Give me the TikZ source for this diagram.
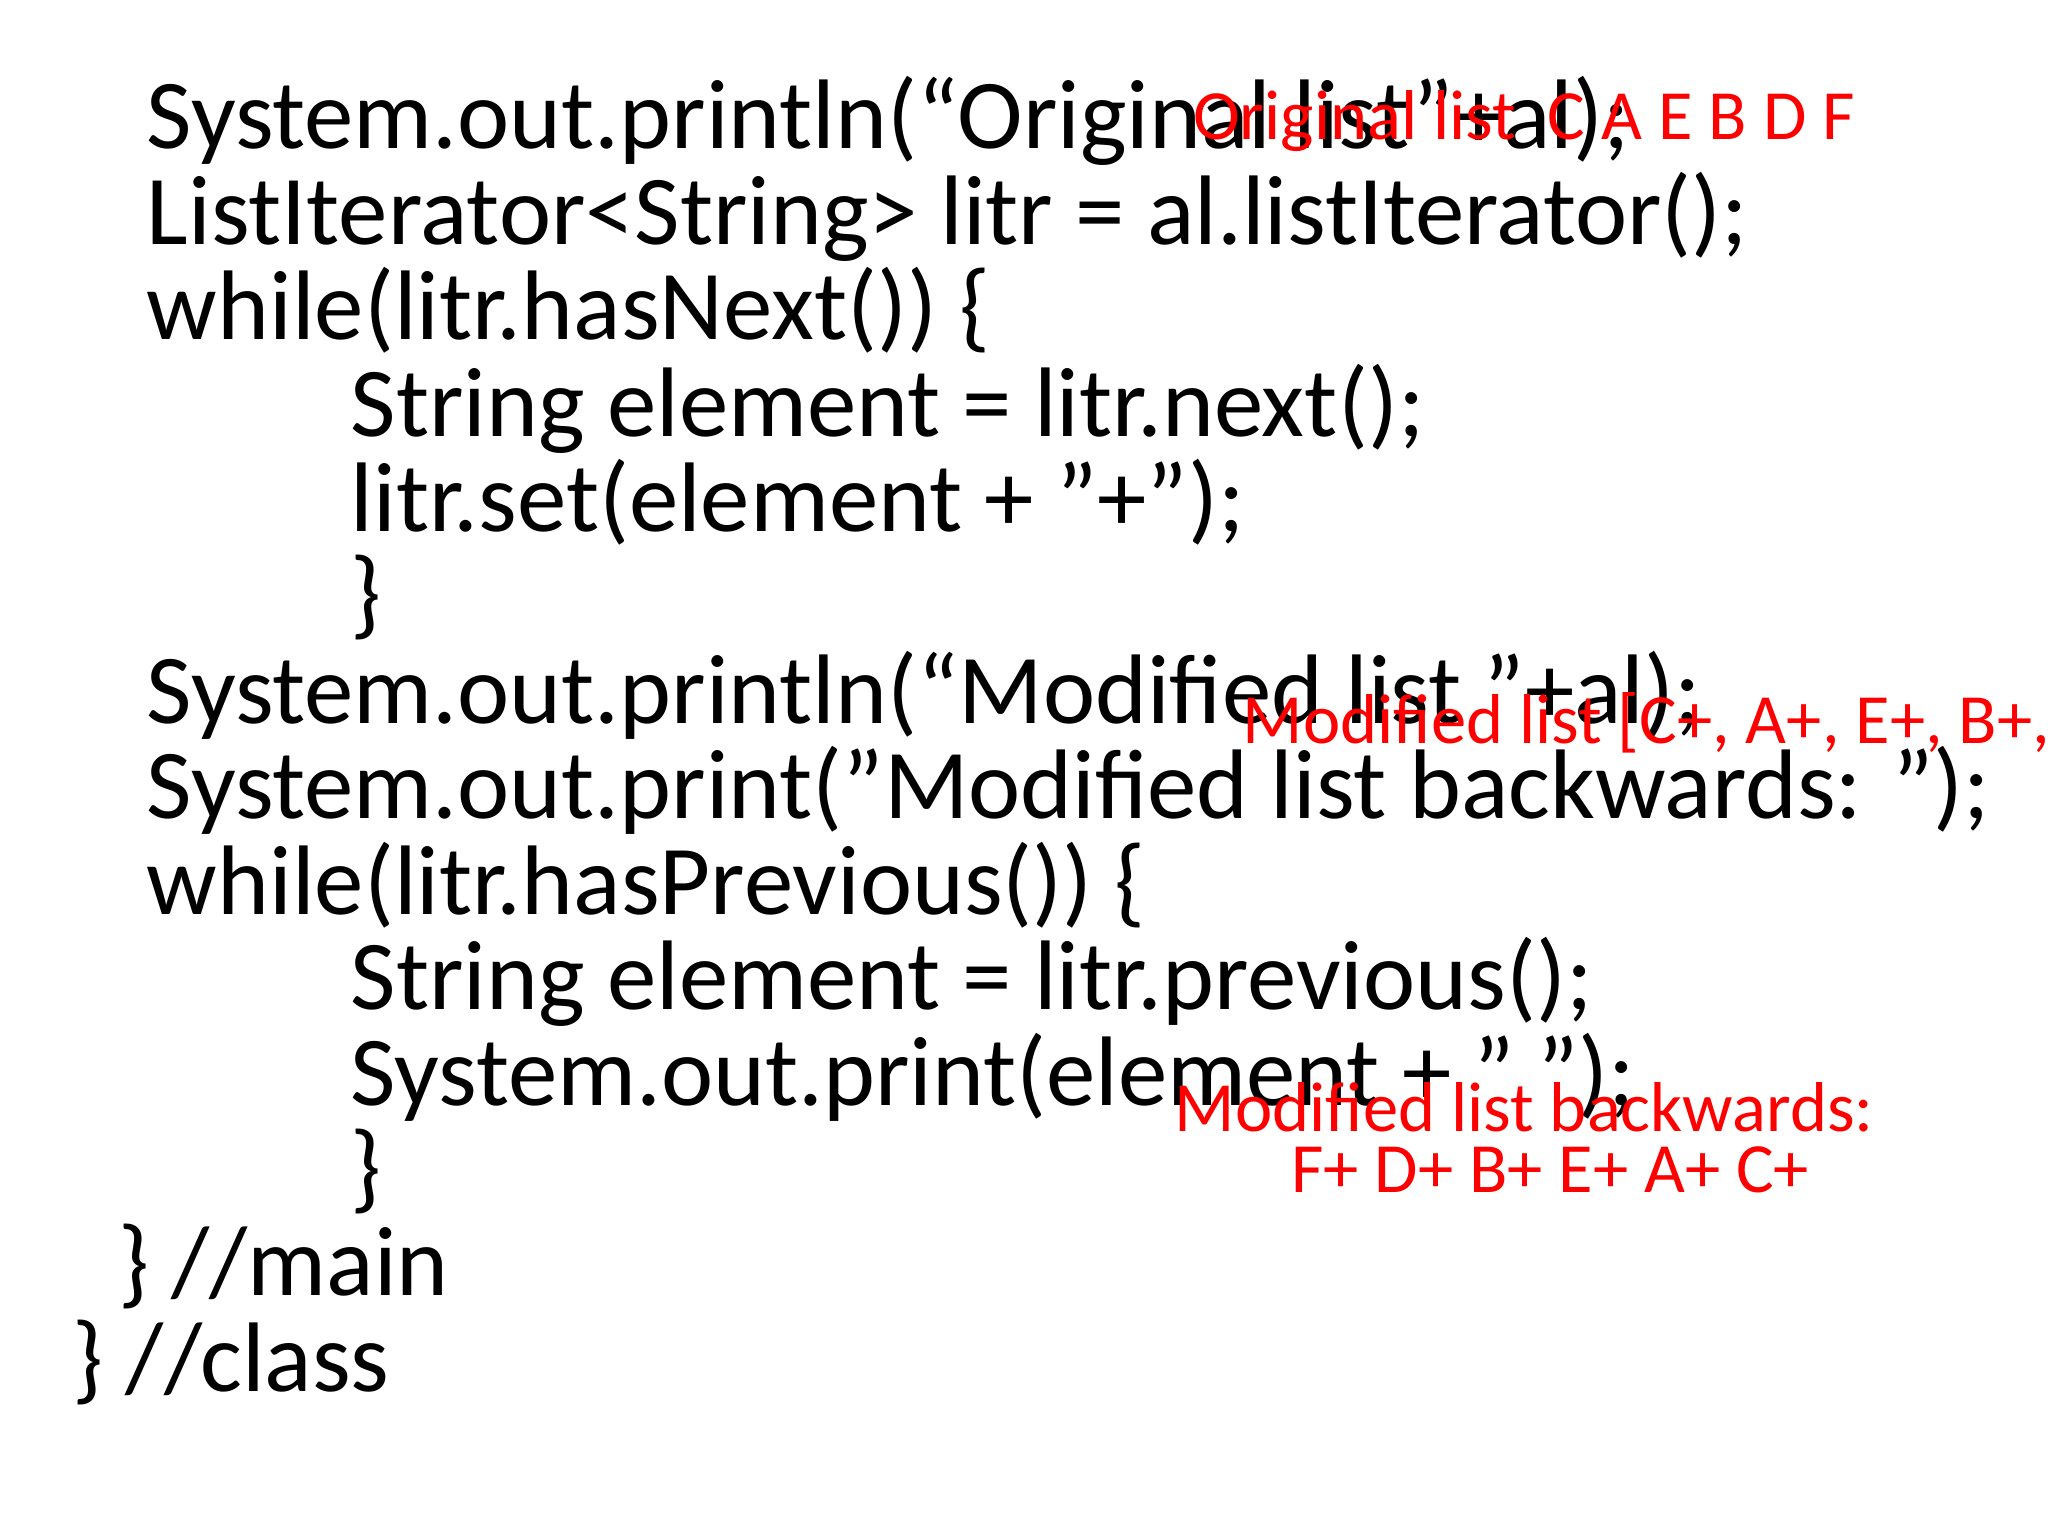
\documentclass[tikz,border=0pt]{standalone}
\usepackage{fontspec}
\setmainfont{Carlito}
\begin{document}
\begin{tikzpicture}[x=0.37pt,y=-0.37pt,
 code/.style={anchor=base west,inner sep=0pt,font=\fontsize{28}{32}\selectfont},
 outtxt/.style={anchor=base west,inner sep=0pt,text=red,font=\fontsize{20}{24}\selectfont}]
\useasboundingbox[fill=white] (0,0) rectangle (1568,1176);
\node[code] (l1) at (112,114) {System.out.println(“Original list”+al);};
\node[code] (l2) at (112,187) {ListIterator<String> litr = al.listIterator();};
\node[code] (l3) at (112,260) {while(litr.hasNext()) \{};
\node[code] (l4) at (268,334) {String element = litr.next();};
\node[code] (l5) at (268,407) {litr.set(element + "+");};
\node[code] (l6) at (268,480) {\}};
\node[code] (l7) at (112,554) {System.out.println(“Modified list ”+al);};
\node[code] (l8) at (112,627) {System.out.print("Modified list backwards: ");};
\node[code] (l9) at (112,700) {while(litr.hasPrevious()) \{};
\node[code] (l10) at (268,773) {String element = litr.previous();};
\node[code] (l11) at (268,846) {System.out.print(element + " ");};
\node[code] (l12) at (268,919) {\}};
\node[code] (l13) at (90,992) {\} //main};
\node[code] (l14) at (55,1065) {\} //class};
\node[outtxt] (o1) at (913,107) {Original list\ \ C A E B D F};
\node[outtxt] (o2) at (951,569) {Modified list [C+, A+, E+, B+, D+, F+]};
\node[outtxt] (o3) at (899,866) {Modified list backwards:};
\node[outtxt] (o4) at (988,913) {F+ D+ B+ E+ A+ C+};
\end{tikzpicture}
\end{document}
